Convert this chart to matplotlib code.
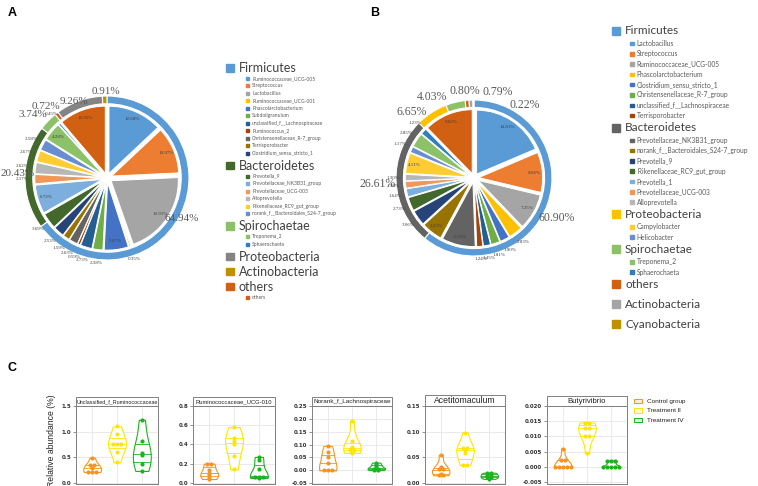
import numpy as np
import matplotlib
matplotlib.use("Agg")
import matplotlib.pyplot as plt
from matplotlib.patches import Rectangle
from matplotlib.ticker import FormatStrFormatter

W, H = 758, 486

# Excel default series palette (used for the genus slices)
office = ["#5B9BD5", "#ED7D31", "#A5A5A5", "#FFC000", "#4472C4", "#70AD47",
          "#255E91", "#9E480E", "#636363", "#997300", "#264478", "#43682B",
          "#7CAFDD", "#F1975A", "#B7B7B7", "#FFCD33", "#698ED0", "#8CC168",
          "#327DC2", "#D26012"]

# ---------------- panel A ----------------
a_phyla = ["Firmicutes", "Bacteroidetes", "Spirochaetae", "Proteobacteria", "Actinobacteria", "others"]
a_phyla_colors = ["#5B9BD5", "#43682B", "#8CC168", "#848484", "#BF9000", "#D26012"]
a_phyla_nsub = [11, 6, 2, 0, 0, 1]
a_ring_vals = [64.94, 20.43, 3.74, 0.72, 9.26, 0.91]
a_ring_colors = ["#5B9BD5", "#43682B", "#8CC168", "#D26012", "#848484", "#BF9000"]
a_genus = ["Ruminococcaceae_UCG-005", "Streptococcus", "Lactobacillus", "Ruminococcaceae_UCG-001",
           "Phascolarctobacterium", "Subdoligranulum", "unclassified_f__Lachnospiraceae", "Ruminococcus_2",
           "Christensenellaceae_R-7_group", "Terrisporobacter", "Clostridium_sensu_stricto_1",
           "Prevotella_9", "Prevotellaceae_NK3B31_group", "Prevotellaceae_UCG-003", "Alloprevotella",
           "Rikenellaceae_RC9_gut_group", "norank_f__Bacteroidales_S24-7_group",
           "Treponema_2", "Sphaerochaeta", "others"]
a_genus_vals = [12.68, 10.97, 19.91, 0.35, 5.67, 2.38, 2.73, 0.59, 2.03, 1.59, 2.53,
                3.69, 6.72, 2.17, 2.62, 2.67, 2.58, 4.28, 0.45, 10.95]

# ---------------- panel B ----------------
b_phyla = ["Firmicutes", "Bacteroidetes", "Proteobacteria", "Spirochaetae", "others", "Actinobacteria", "Cyanobacteria"]
b_phyla_colors = ["#5B9BD5", "#636363", "#FFC000", "#8CC168", "#D26012", "#A5A5A5", "#BF9000"]
b_phyla_nsub = [8, 7, 2, 2, 0, 0, 0]
b_ring_vals = [60.90, 26.61, 6.65, 4.03, 0.80, 0.79, 0.22]
b_ring_colors = ["#5B9BD5", "#636363", "#FFC000", "#8CC168", "#D26012", "#A5A5A5", "#BF9000"]
b_genus = ["Lactobacillus", "Streptococcus", "Ruminococcaceae_UCG-005", "Phascolarctobacterium",
           "Clostridium_sensu_stricto_1", "Christensenellaceae_R-7_group", "unclassified_f__Lachnospiraceae",
           "Terrisporobacter", "Prevotellaceae_NK3B31_group", "norank_f__Bacteroidales_S24-7_group",
           "Prevotella_9", " Rikenellaceae_RC9_gut_group", "Prevotella_1", "Prevotellaceae_UCG-003",
           "Alloprevotella", "Campylobacter", "Helicobacter", "Treponema_2", "Sphaerochaeta", "others"]
b_genus_vals = [14.81, 8.06, 7.25, 2.83, 1.90, 1.81, 1.45, 1.24, 6.74, 4.23, 3.06, 2.73,
                1.64, 1.38, 1.30, 4.11, 1.17, 2.85, 1.23, 9.82]

# ---------------- panel C ----------------
c_groups = ["Control group", "Treatment \u2161", "Treatment \u2163"]
c_colors = ["#F7931E", "#FFE600", "#1DB31D"]
c_titles = ["Unclassified_f_Ruminococcaceae", "Ruminococcaceae_UCG-010", "Norank_f_Lachnospiraceae",
            "Acetitomaculum", "Butyrivibrio"]
unc_rumino = [[0.49, 0.35, 0.34, 0.29, 0.21, 0.21, 0.21],
              [1.10, 0.95, 0.78, 0.76, 0.75, 0.60, 0.40],
              [1.23, 0.82, 0.58, 0.55, 0.36, 0.23]]
rumino_010 = [[0.20, 0.20, 0.13, 0.10, 0.08, 0.06, 0.04],
              [0.58, 0.47, 0.44, 0.40, 0.28, 0.14],
              [0.27, 0.24, 0.14, 0.07, 0.06, 0.05, 0.06]]
norank_lachno = [[0.095, 0.072, 0.050, 0.027, 0.002, 0.0, 0.001],
                 [0.193, 0.114, 0.090, 0.082, 0.080, 0.068],
                 [0.030, 0.025, 0.015, 0.008, 0.005, 0.003, 0.001]]
acetitomaculum = [[0.055, 0.032, 0.028, 0.025, 0.018, 0.016, 0.015],
                  [0.098, 0.070, 0.067, 0.065, 0.058, 0.036, 0.035],
                  [0.020, 0.019, 0.016, 0.014, 0.012, 0.010, 0.008]]
butyrivibrio = [[0.006, 0.0022, 0.0022, 0.0, 0.0, 0.0, 0.0, 0.0],
                [0.0146, 0.0145, 0.0128, 0.0127, 0.0101, 0.0100, 0.0045],
                [0.0021, 0.0020, 0.0021, 0.0, 0.0, 0.0, 0.0, 0.0]]
c_data = [unc_rumino, rumino_010, norank_lachno, acetitomaculum, butyrivibrio]
c_yticks = [[0.0, 0.5, 1.0, 1.5], [0.0, 0.2, 0.4, 0.6, 0.8],
            [-0.05, 0.0, 0.05, 0.10, 0.15, 0.20, 0.25], [0.0, 0.05, 0.10, 0.15],
            [-0.005, 0.0, 0.005, 0.010, 0.015, 0.020]]


fig = plt.figure(figsize=(W / 100, H / 100), dpi=100)


def box(x0, y0, x1, y1):
    return [x0 / W, 1 - y1 / H, (x1 - x0) / W, (y1 - y0) / H]


def donut(rect, unit, ring_vals, ring_cols, in_vals, ring_r, ring_fs, nudges):
    ax = fig.add_axes(box(*rect))
    _, rt = ax.pie(ring_vals, colors=ring_cols, radius=1.0, startangle=90, counterclock=False,
                   labels=[f"{v:.2f}%" for v in ring_vals], labeldistance=ring_r,
                   wedgeprops=dict(width=0.095, edgecolor="white", linewidth=0.8),
                   textprops=dict(fontsize=ring_fs, color="#595959", family="Liberation Serif"))
    for t, (dx, dy) in zip(rt, nudges):
        x, y = t.get_position()
        t.set_position((x + dx / unit, y - dy / unit))
        t.set_ha("center")
        t.set_va("center")
    _, it = ax.pie(in_vals, colors=office[:len(in_vals)], radius=0.82, startangle=90, counterclock=False,
                   explode=[0.06] * len(in_vals), labels=[f"{v:.2f}%" for v in in_vals], labeldistance=1.0,
                   wedgeprops=dict(edgecolor="white", linewidth=0.7),
                   textprops=dict(fontsize=3.6, color="#404040", family="Liberation Serif"))
    for t, v in zip(it, in_vals):
        x, y = t.get_position()
        r = 0.78 if v >= 4 else 1.04
        s = r / np.hypot(x, y)
        t.set_position((x * s, y * s))
        t.set_ha("center")
        t.set_va("center")
    ax.set_xlim(-1, 1)
    ax.set_ylim(-1, 1)
    ax.set_aspect("equal")
    ax.axis("off")


def legend(names, colors, nsub, sub_names, x_head, x_sub, y0, head_fs, sub_fs, hsq, ssq, steps):
    head_sub, head_head, sub_head, sub_sub = steps
    y = y0
    k = 0
    prev = None
    for name, col, n in zip(names, colors, nsub):
        if prev == "sub":
            y += head_sub
        elif prev == "head":
            y += head_head
        fig.add_artist(Rectangle((x_head / W, 1 - (y + hsq / 2) / H), hsq / W, hsq / H,
                                 transform=fig.transFigure, color=col))
        fig.text((x_head + hsq + 5) / W, 1 - y / H, name, fontsize=head_fs, family="Lato",
                 color="#404040", va="center", ha="left")
        prev = "head"
        for j in range(n):
            y += sub_head if prev == "head" else sub_sub
            c = office[k] if k < len(office) else col
            fig.add_artist(Rectangle((x_sub / W, 1 - (y + ssq / 2) / H), ssq / W, ssq / H,
                                     transform=fig.transFigure, color=c))
            fig.text((x_sub + ssq + 3) / W, 1 - y / H, sub_names[k], fontsize=sub_fs, family="Lato",
                     color="#595959", va="center", ha="left")
            k += 1
            prev = "sub"


# ---- A ----
donut((25, 96, 189, 260), 82, a_ring_vals, a_ring_colors, a_genus_vals, 1.08, 8,
      [(-4, 0), (-1, -4), (-10, -2), (-7, -2), (-3, 7), (1.5, 2.5)])
legend(a_phyla, a_phyla_colors, a_phyla_nsub, a_genus, 226, 246, 68, 9, 3.6, 7.5, 3, (12.5, 15, 10.5, 7.47))

# ---- B ----
donut((396, 100, 552, 256), 78, b_ring_vals, b_ring_colors, b_genus_vals, 1.18, 8.5,
      [(-4, 9), (-5, 1), (-12, 11), (-20, 8), (-1, 5), (27, 6), (51, 19)])
legend(b_phyla, b_phyla_colors, b_phyla_nsub, b_genus, 612, 630, 31, 8.5, 4.8, 8, 3.5, (12.2, 20, 12.5, 10.3))


# ---- C ----
def stack(vals, bw, dx):
    vals = np.asarray(vals, dtype=float)
    keys = np.round(vals / bw).astype(int)
    off = np.zeros(len(vals))
    ys = vals.copy()
    for k in np.unique(keys):
        idx = np.where(keys == k)[0]
        off[idx] = (np.arange(len(idx)) - (len(idx) - 1) / 2) * dx
        ys[idx] = vals[idx].mean()
    return off, ys


c_rects = [(76, 406, 158, 484), (193, 406, 275, 484), (312, 406, 392, 484),
           (425, 406, 505, 484), (547, 406, 627, 484)]
c_ylims = [(-0.025, 1.5), (-0.012, 0.8), (-0.053, 0.25), (-0.002, 0.15), (-0.0056, 0.020)]
c_dec = [1, 1, 2, 2, 3]
c_title_fs = [3.9, 4.2, 4.6, 6.2, 5.6]
c_strip = [9, 9, 9, 11, 10]
pos = [1, 2, 3]

for i in range(5):
    ax = fig.add_axes(box(*c_rects[i]))
    series = c_data[i]
    lo, hi = c_ylims[i]
    parts = ax.violinplot(series, positions=pos, widths=0.72, showextrema=False)
    for body, c in zip(parts["bodies"], c_colors):
        body.set_facecolor("white")
        body.set_edgecolor(c)
        body.set_alpha(1)
        body.set_linewidth(0.8)
        body.set_zorder(2)
    for body, p, vals, c in zip(parts["bodies"], pos, series, c_colors):
        v = body.get_paths()[0].vertices
        right = v[v[:, 0] > p + 1e-9]
        right = right[np.argsort(right[:, 1])]
        for q in np.quantile(vals, [0.25, 0.5, 0.75]):
            hw = np.interp(q, right[:, 1], right[:, 0]) - p
            ax.plot([p - hw, p + hw], [q, q], color=c, lw=0.6, zorder=3)
    bw = (hi - lo) / 40
    for p, vals, c in zip(pos, series, c_colors):
        off, ys = stack(vals, bw, 0.16)
        ax.scatter(p + off, ys, s=9, color=c, zorder=4, linewidths=0)
    ax.set_xlim(0.35, 3.65)
    ax.set_ylim(lo, hi)
    ax.set_xticks(pos)
    ax.set_yticks(c_yticks[i])
    ax.yaxis.set_major_formatter(FormatStrFormatter(f"%.{c_dec[i]}f"))
    ax.tick_params(axis="x", length=0, labelbottom=False)
    ax.tick_params(axis="y", length=2, width=0.5, color="#666666", labelsize=4, pad=1.5,
                   labelcolor="#333333")
    for lab in ax.get_yticklabels():
        lab.set_fontweight("bold")
    ax.grid(color="#E6E6E6", lw=0.6)
    ax.set_axisbelow(True)
    for s in ax.spines.values():
        s.set_color("#808080")
        s.set_linewidth(0.7)
    sh = c_strip[i] / (c_rects[i][3] - c_rects[i][1])
    ax.add_patch(Rectangle((0, 1), 1, sh, transform=ax.transAxes, facecolor="white",
                           edgecolor="#808080", lw=0.7, clip_on=False))
    ax.text(0.5, 1 + sh / 2, c_titles[i], transform=ax.transAxes, ha="center", va="center",
            fontsize=c_title_fs[i], family=["Liberation Sans", "DejaVu Sans"], color="#222222")

fig.text(52 / W, 1 - 441 / H, "Relative abundance (%)", rotation=90, ha="center", va="center",
         fontsize=6.2, family="Liberation Sans", color="#222222")

for j, (g, c) in enumerate(zip(c_groups, c_colors)):
    y = 401 + j * 9.6
    fig.add_artist(Rectangle((634 / W, 1 - (y + 2.2) / H), 8 / W, 4.4 / H, transform=fig.transFigure,
                             facecolor=matplotlib.colors.to_rgba(c, 0.15), edgecolor=c, lw=0.7))
    fig.text(647 / W, 1 - y / H, g, fontsize=4.6, family=["Liberation Sans", "DejaVu Sans"],
             va="center", ha="left", color="#222222")

for lab, x, y in [("A", 8, 13), ("B", 370, 13), ("C", 8, 368)]:
    fig.text(x / W, 1 - y / H, lab, fontsize=9, fontweight="bold", family="Liberation Sans",
             va="center", ha="left")

fig.savefig("out.png", dpi=100)
